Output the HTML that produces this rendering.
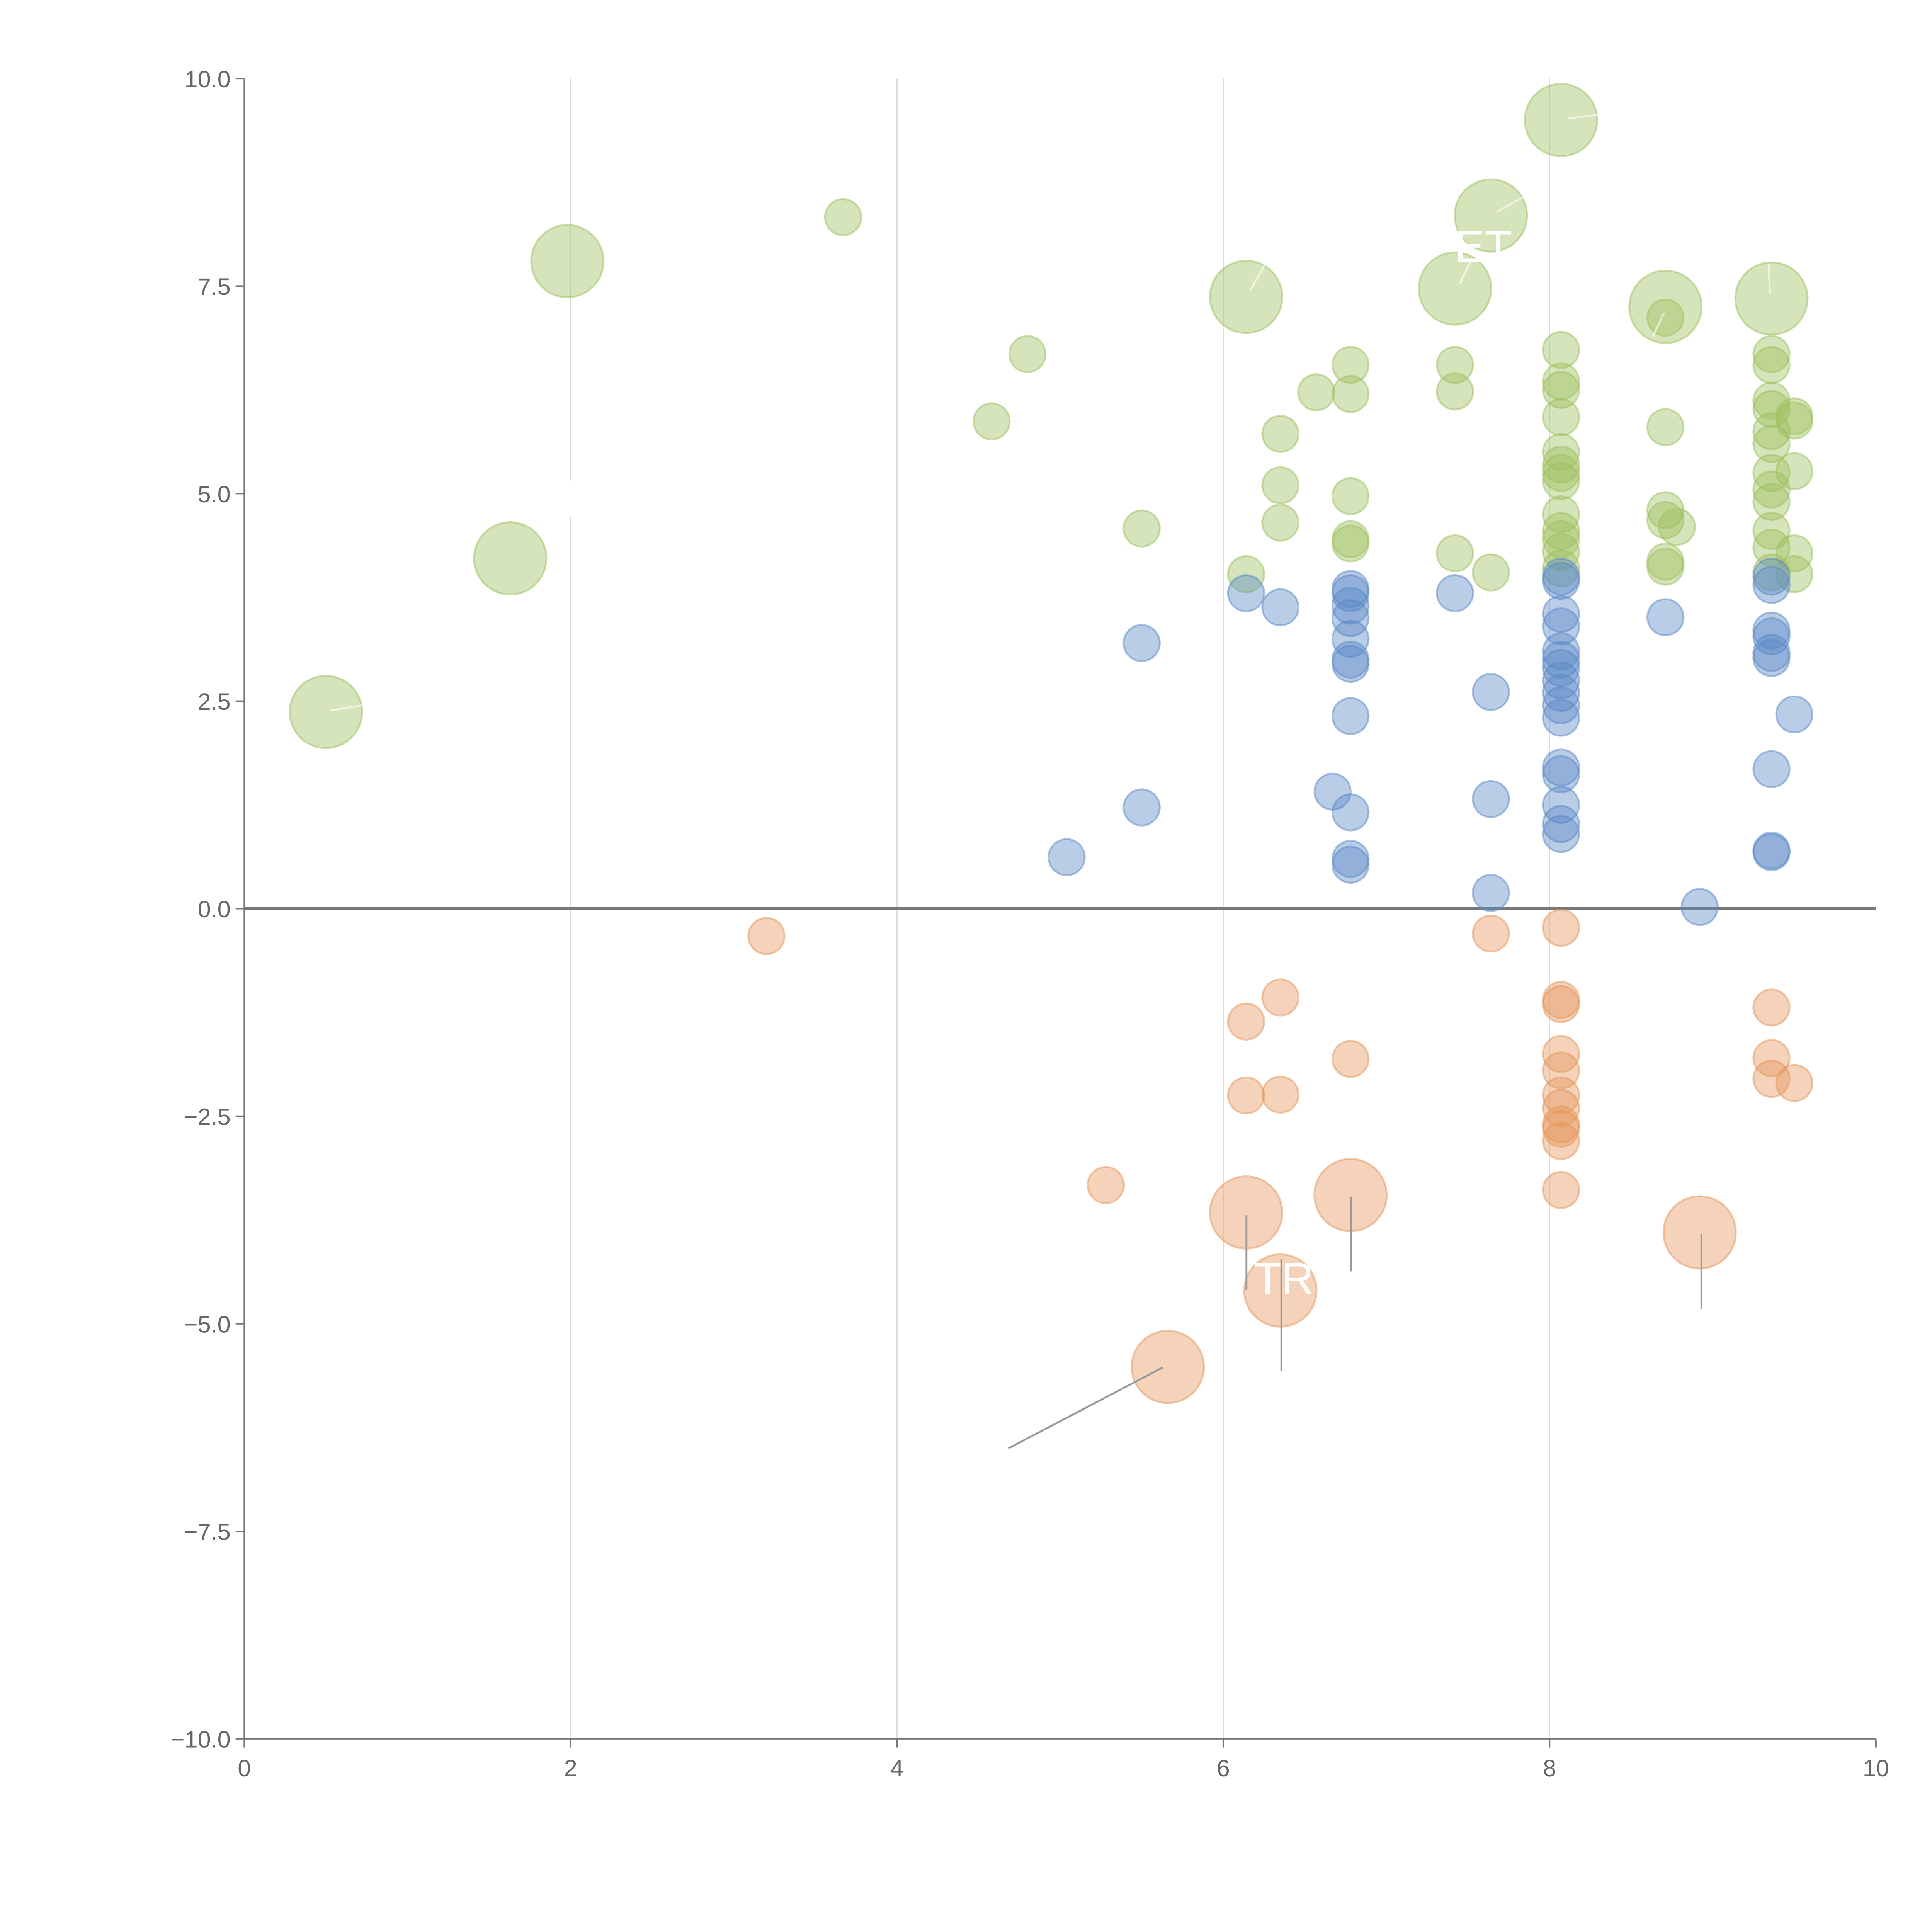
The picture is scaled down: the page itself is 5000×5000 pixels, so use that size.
<!DOCTYPE html>
<html><head><meta charset="utf-8"><style>
html,body{margin:0;padding:0;background:#fff}
svg{display:block}
text{font-family:"Liberation Sans",sans-serif}
</style></head><body>
<svg id="chart" width="5000" height="5000" viewBox="0 0 1550 1550" xmlns="http://www.w3.org/2000/svg">
<g id="grid"></g>
<g id="axes"></g>
<g id="marks"></g>
<g id="labels"></g>
</svg>
<script>
const xTicks=[0,2,4,6,8,10];
const yTicks=[10,7.5,5,2.5,0,-2.5,-5,-7.5,-10];
const yTickLabels=["10.0","7.5","5.0","2.5","0.0","\u22122.5","\u22125.0","\u22127.5","\u221210.0"];
const greenX=[3.67,4.8,4.58,5.5,6.14,6.35,6.35,6.35,6.57,6.78,6.78,6.78,6.78,6.78,7.42,7.42,7.42,7.64,8.07,8.07,8.07,8.07,8.07,8.07,8.07,8.07,8.07,8.07,8.07,8.07,8.07,8.71,8.71,8.71,8.71,8.78,8.71,8.71,9.36,9.36,9.36,9.36,9.36,9.36,9.36,9.36,9.36,9.36,9.36,9.36,9.5,9.5,9.5,9.5,9.5];
const greenY=[8.33,6.68,5.87,4.58,4.03,5.72,5.1,4.65,6.22,6.55,6.2,4.97,4.45,4.4,6.55,6.23,4.28,4.05,6.73,6.35,6.25,5.92,5.5,5.35,5.25,5.15,4.75,4.55,4.45,4.3,4.1,7.12,5.8,4.8,4.68,4.6,4.18,4.12,6.68,6.55,6.12,6.02,5.75,5.6,5.25,5.05,4.9,4.55,4.35,4.05,5.93,5.88,5.27,4.28,4.03];
const greenBigX=[0.5,1.63,1.98,6.14,7.42,7.64,8.07,8.71,9.36];
const greenBigY=[2.37,4.22,7.8,7.37,7.47,8.35,9.5,7.25,7.35];
const blueX=[5.04,5.5,5.5,6.14,6.35,6.67,6.78,6.78,6.78,6.78,6.78,6.78,6.78,6.78,6.78,6.78,6.78,7.42,7.64,7.64,7.64,8.07,8.07,8.07,8.07,8.07,8.07,8.07,8.07,8.07,8.07,8.07,8.07,8.07,8.07,8.07,8.07,8.71,8.92,9.36,9.36,9.36,9.36,9.36,9.36,9.36,9.36,9.36,9.5];
const blueY=[0.62,3.2,1.22,3.8,3.63,1.41,3.85,3.8,3.65,3.5,3.25,3.0,2.95,2.32,1.16,0.6,0.53,3.8,2.61,1.32,0.19,4.0,3.95,3.55,3.4,3.1,3.0,2.9,2.75,2.6,2.45,2.3,1.7,1.62,1.25,1.02,0.9,3.51,0.02,4.0,3.9,3.35,3.28,3.08,3.02,1.68,0.7,0.68,2.34];
const orangeX=[3.2,5.28,6.14,6.14,6.35,6.35,6.78,7.64,8.07,8.07,8.07,8.07,8.07,8.07,8.07,8.07,8.07,8.07,8.07,9.36,9.36,9.36,9.5];
const orangeY=[-0.33,-3.33,-1.36,-2.25,-1.07,-2.24,-1.81,-0.3,-0.23,-1.1,-1.15,-1.75,-1.95,-2.25,-2.4,-2.6,-2.65,-2.8,-3.39,-1.19,-1.8,-2.05,-2.1];
const orangeBigX=[5.66,6.14,6.35,6.78,8.92];
const orangeBigY=[-5.52,-3.66,-4.6,-3.45,-3.9];

const NS="http://www.w3.org/2000/svg";
const X0=196,X1=1505,Y0=1395,Y1=63;
const sx=v=>X0+(v-0)/(10-0)*(X1-X0);
const sy=v=>Y0-(v+10)/20*(Y0-Y1);
function mk(tag,attrs,parent){const e=document.createElementNS(NS,tag);for(const k in attrs)e.setAttribute(k,attrs[k]);parent.appendChild(e);return e;}
const grid=document.getElementById('grid'),axes=document.getElementById('axes'),marks=document.getElementById('marks'),labels=document.getElementById('labels');

xTicks.forEach(t=>{
  if(t>0&&t<10){const g=mk('line',{x1:sx(t),x2:sx(t),y1:Y1,y2:Y0,stroke:'#dcdcdc','stroke-width':1},grid);
  
  }
  const tk=mk('line',{x1:sx(t),x2:sx(t),y1:Y0,y2:Y0+7,stroke:'#777','stroke-width':1.2},axes);
  
  
  const tx=mk('text',{x:sx(t),y:Y0+30,'text-anchor':'middle','font-size':19,fill:'#666'},axes);
  tx.textContent=t;
  
  
});
yTicks.forEach((t,i)=>{
  const tk=mk('line',{x1:X0-7,x2:X0,y1:sy(t),y2:sy(t),stroke:'#777','stroke-width':1.2},axes);
  
  
  const tx=mk('text',{x:X0-11,y:sy(t)+7,'text-anchor':'end','font-size':19,fill:'#666'},axes);
  tx.textContent=yTickLabels[i];
  
  
});
const ya=mk('line',{x1:X0,x2:X0,y1:Y1,y2:Y0,stroke:'#777','stroke-width':1.2},axes);


const xa=mk('line',{x1:X0,x2:X1,y1:Y0,y2:Y0,stroke:'#777','stroke-width':1.2},axes);


const zl=mk('line',{x1:X0,x2:X1,y1:sy(0),y2:sy(0),stroke:'#777','stroke-width':2.5},axes);



function series(xs,ys,r,col,name){
  xs.forEach((x,i)=>{
    const c=mk('circle',{cx:sx(x),cy:sy(ys[i]),r:r,fill:col,'fill-opacity':0.42,stroke:col,'stroke-opacity':0.5,'stroke-width':1.5},marks);
    
    
  });
}
series(greenX,greenY,14.5,'#9dbf5e','bubble-green');
series(greenBigX,greenBigY,29,'#9dbf5e','bubble-green-large');
series(blueX,blueY,14.5,'#5a89c6','bubble-blue');
series(orangeX,orangeY,14.5,'#e4965a','bubble-orange');
series(orangeBigX,orangeBigY,29,'#e4965a','bubble-orange-large');

// annotation leader lines
[[1000,975,1000,1035],[1028,1010,1028,1100],[1084,960,1084,1020],[1365,990,1365,1050],[933,1097,809,1162]].forEach(l=>{
  const e=mk('line',{x1:l[0],y1:l[1],x2:l[2],y2:l[3],stroke:'#999','stroke-width':1.5},labels);
  
  
});
[[265,570,290,566],[1003,233,1015,212],[1171,228,1181,207],[1201,170,1222,158],[1258,95,1283,92],[1326,270,1335,251],[1420,236,1419,212]].forEach(l=>{
  const e=mk('line',{x1:l[0],y1:l[1],x2:l[2],y2:l[3],stroke:'#fff','stroke-opacity':0.6,'stroke-width':1.5},labels);
  
  
});
const gap=mk('rect',{x:452,y:386,width:12,height:28,fill:'#fff'},labels);


const t1=mk('text',{x:1030,y:1038,'text-anchor':'middle','font-size':36,fill:'#fff'},labels);
t1.textContent='TR';


const t2=mk('text',{x:1190,y:210,'text-anchor':'middle','font-size':36,fill:'#fff'},labels);
t2.textContent='ET';


</script>
</body></html>
